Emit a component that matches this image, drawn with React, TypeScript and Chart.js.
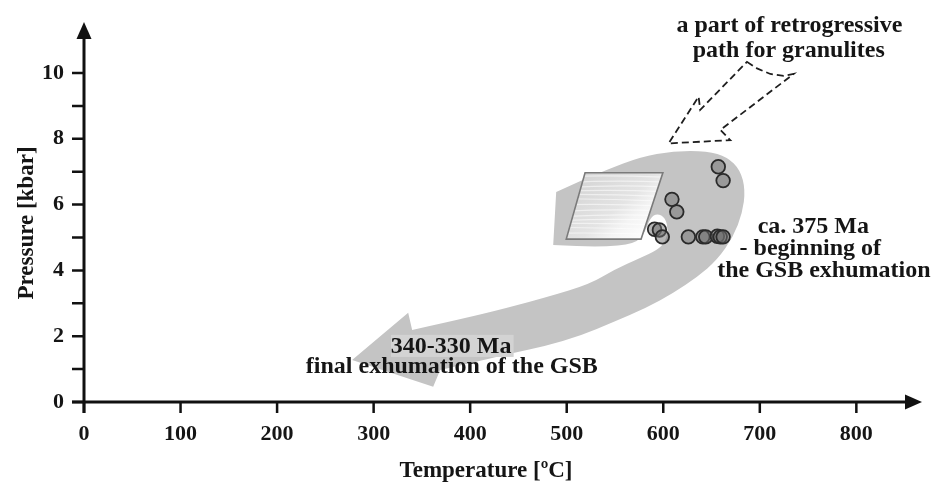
import { useEffect, useRef } from 'react';
import { Chart, registerables } from 'chart.js';

Chart.register(...registerables);

// Measured samples (temperature °C, pressure kbar)
const temperatures = [657, 662, 609, 614, 591, 596, 599, 626, 641, 644, 656, 659, 662];
const pressures = [7.15, 6.73, 6.16, 5.78, 5.25, 5.23, 5.02, 5.02, 5.02, 5.02, 5.04, 5.02, 5.02];

// Axis ticks
const xTicks = [0, 100, 200, 300, 400, 500, 600, 700, 800];
const yTicks = [0, 2, 4, 6, 8, 10];
const yMinorTicks = [1, 3, 5, 7, 9];

// P-T path band (outline, °C / kbar)
const pathT = [489.1, 514.0, 540.9, 576.2, 610.4, 645.6, 666.3, 679.8, 685.0, 681.9, 672.5, 656.0, 635.2, 610.4, 582.4, 548.2, 514.0, 477.7, 444.6, 405.2, 368.9, 361.7, 277.7, 335.8, 339.9, 410.4, 479.8, 524.4, 548.2, 576.2, 593.8, 602.1, 605.2, 602.1, 593.8, 586.5, 581.3, 571.0, 534.7, 486.0];
const pathP = [6.38, 6.72, 7.05, 7.45, 7.63, 7.63, 7.45, 7.05, 6.44, 5.74, 5.02, 4.32, 3.80, 3.31, 2.86, 2.43, 2.01, 1.70, 1.49, 1.22, 0.97, 0.46, 1.28, 2.71, 2.19, 2.64, 3.19, 3.59, 4.01, 4.38, 4.62, 4.86, 5.23, 5.59, 5.74, 5.59, 5.17, 4.80, 4.71, 4.77];
const pathSharp = [0, 20, 21, 22, 23, 24, 39];

// Granulite field (parallelogram)
const fieldT = [499.5, 577.0, 599.6, 519.0];
const fieldP = [4.95, 4.95, 6.97, 6.97];

// Retrogressive path for granulites (dashed arrow)
const dashT = [686.7, 697.1, 710.9, 724.7, 735.0, 659.1, 669.4, 605.5, 636.6, 638.3];
const dashP = [10.34, 10.14, 9.97, 9.91, 9.97, 8.27, 7.96, 7.86, 9.28, 8.88];

const FONT = '"Liberation Serif", "Times New Roman", serif';

function overlayPlugin() {
  return {
    id: 'overlay',
    beforeDatasetsDraw(chart: any) {
      const { ctx, scales } = chart;
      const xs = scales.x, ys = scales.y;
      const px = (v: number) => xs.getPixelForValue(v);
      const py = (v: number) => ys.getPixelForValue(v);

      // Gray band
      ctx.save();
      ctx.fillStyle = '#c4c4c4';
      ctx.beginPath();
      const n = pathT.length;
      const pts = pathT.map((t, i) => [px(t), py(pathP[i])]);
      ctx.moveTo(pts[0][0], pts[0][1]);
      for (let i = 1; i <= n; i++) {
        const p = pts[i % n];
        const idx = i % n;
        if (pathSharp.includes(idx)) {
          ctx.lineTo(p[0], p[1]);
        } else {
          const q = pts[(i + 1) % n];
          ctx.quadraticCurveTo(p[0], p[1], (p[0] + q[0]) / 2, (p[1] + q[1]) / 2);
        }
      }
      ctx.closePath();
      ctx.fill();

      // lighter box behind lower label
      ctx.fillStyle = '#d3d3d3';
      const bx0 = px(318), bx1 = px(445), by0 = py(2.04), by1 = py(1.37);
      ctx.fillRect(bx0, by0, bx1 - bx0, by1 - by0);

      // Parallelogram field
      const fp = fieldT.map((t, i) => [px(t), py(fieldP[i])]);
      const g = ctx.createLinearGradient(fp[3][0], fp[3][1], fp[1][0], fp[1][1]);
      g.addColorStop(0, '#d4d4d4');
      g.addColorStop(0.55, '#e4e4e4');
      g.addColorStop(0.75, '#f4f4f4');
      g.addColorStop(1, '#fdfdfd');
      ctx.fillStyle = g;
      ctx.beginPath();
      fp.forEach((p, i) => (i ? ctx.lineTo(p[0], p[1]) : ctx.moveTo(p[0], p[1])));
      ctx.closePath();
      ctx.fill();
      // texture streaks
      ctx.save();
      ctx.clip();
      ctx.strokeStyle = 'rgba(255,255,255,0.55)';
      ctx.lineWidth = 1.2;
      for (let k = 0; k < 14; k++) {
        const yy = fp[3][1] + 4 + k * 4.8;
        ctx.beginPath();
        ctx.moveTo(fp[0][0] - 10, yy + Math.sin(k) * 2);
        ctx.quadraticCurveTo((fp[0][0] + fp[2][0]) / 2, yy - 2, fp[2][0] + 10, yy + 1);
        ctx.stroke();
      }
      ctx.restore();
      ctx.strokeStyle = '#7a7a7a';
      ctx.lineWidth = 1.6;
      ctx.beginPath();
      fp.forEach((p, i) => (i ? ctx.lineTo(p[0], p[1]) : ctx.moveTo(p[0], p[1])));
      ctx.closePath();
      ctx.stroke();
      ctx.restore();
    },
    afterDraw(chart: any) {
      const { ctx, scales, chartArea } = chart;
      const xs = scales.x, ys = scales.y;
      const px = (v: number) => xs.getPixelForValue(v);
      const py = (v: number) => ys.getPixelForValue(v);
      const L = chartArea.left, R = chartArea.right, T = chartArea.top, B = chartArea.bottom;

      ctx.save();
      // Dashed arrow
      ctx.strokeStyle = '#1e1e1e';
      ctx.lineWidth = 1.8;
      ctx.setLineDash([7, 4]);
      ctx.beginPath();
      dashT.forEach((t, i) => {
        const x = px(t), y = py(dashP[i]);
        if (i === 0) ctx.moveTo(x, y); else ctx.lineTo(x, y);
      });
      ctx.closePath();
      ctx.stroke();
      ctx.setLineDash([]);

      // Axes
      ctx.strokeStyle = '#111';
      ctx.fillStyle = '#111';
      ctx.lineWidth = 3;
      ctx.beginPath();
      ctx.moveTo(L - 12, B);
      ctx.lineTo(R - 12, B);
      ctx.moveTo(L, B + 11);
      ctx.lineTo(L, T + 12);
      ctx.stroke();
      // arrowheads
      ctx.beginPath();
      ctx.moveTo(R, B);
      ctx.lineTo(R - 17, B - 7.5);
      ctx.lineTo(R - 17, B + 7.5);
      ctx.closePath();
      ctx.fill();
      ctx.beginPath();
      ctx.moveTo(L, T);
      ctx.lineTo(L - 7.5, T + 17);
      ctx.lineTo(L + 7.5, T + 17);
      ctx.closePath();
      ctx.fill();

      // ticks
      ctx.lineWidth = 2.5;
      ctx.beginPath();
      xTicks.forEach((t) => {
        const x = px(t);
        ctx.moveTo(x, B);
        ctx.lineTo(x, B + 11);
      });
      [...yTicks, ...yMinorTicks].forEach((v) => {
        const y = py(v);
        ctx.moveTo(L - 12, y);
        ctx.lineTo(L, y);
      });
      ctx.stroke();

      // tick labels
      ctx.fillStyle = '#151515';
      ctx.font = `bold 22px ${FONT}`;
      ctx.textAlign = 'center';
      ctx.textBaseline = 'middle';
      xTicks.forEach((t) => ctx.fillText(String(t), px(t), B + 32));
      ctx.textAlign = 'right';
      yTicks.forEach((v) => ctx.fillText(String(v), L - 20, py(v)));

      // axis titles
      ctx.font = `bold 23px ${FONT}`;
      ctx.textAlign = 'center';
      ctx.textBaseline = 'alphabetic';
      ctx.fillText('Temperature [ºC]', 486, 477);
      ctx.save();
      ctx.translate(33, 223);
      ctx.rotate(-Math.PI / 2);
      ctx.fillText('Pressure [kbar]', 0, 0);
      ctx.restore();

      // annotations
      ctx.font = `bold 24px ${FONT}`;
      ctx.textAlign = 'center';
      ctx.fillText('a part of retrogressive', px(730.6), py(11.26));
      ctx.fillText('path for granulites', px(730.0), py(10.5));
      ctx.fillText('340-330 Ma', px(380.3), py(1.49));
      ctx.fillText('final exhumation of the GSB', px(381.0), py(0.88));
      ctx.fillText('ca. 375 Ma', px(755.4), py(5.14));
      ctx.fillText('- beginning of', px(752.3), py(4.47));
      ctx.fillText('the GSB exhumation', px(766.3), py(3.8));
      ctx.restore();
    },
  };
}

export default function App() {
  const ref = useRef<HTMLCanvasElement | null>(null);
  useEffect(() => {
    if (!ref.current) return;
    const chart = new Chart(ref.current, {
      type: 'scatter',
      data: {
        datasets: [
          {
            label: 'samples',
            data: temperatures.map((t, i) => ({ x: t, y: pressures[i] })),
            pointRadius: 6.8,
            pointBackgroundColor: 'rgba(110,110,110,0.5)',
            pointBorderColor: '#2a2a2a',
            pointBorderWidth: 1.8,
          },
        ],
      },
      options: {
        animation: false,
        responsive: false,
        devicePixelRatio: 1,
        layout: { padding: { left: 84, right: 9, top: 22, bottom: 88 } },
        plugins: { legend: { display: false }, tooltip: { enabled: false } },
        scales: {
          x: { type: 'linear', min: 0, max: 868, display: false },
          y: { type: 'linear', min: 0, max: 11.55, display: false },
        },
      },
      plugins: [overlayPlugin()],
    });
    return () => chart.destroy();
  }, []);
  return (
    <div style={{ position: 'absolute', left: 0, top: 0, width: 931, height: 490, background: '#fff' }}>
      <canvas ref={ref} width={931} height={490} style={{ width: 931, height: 490, display: 'block' }} />
    </div>
  );
}
